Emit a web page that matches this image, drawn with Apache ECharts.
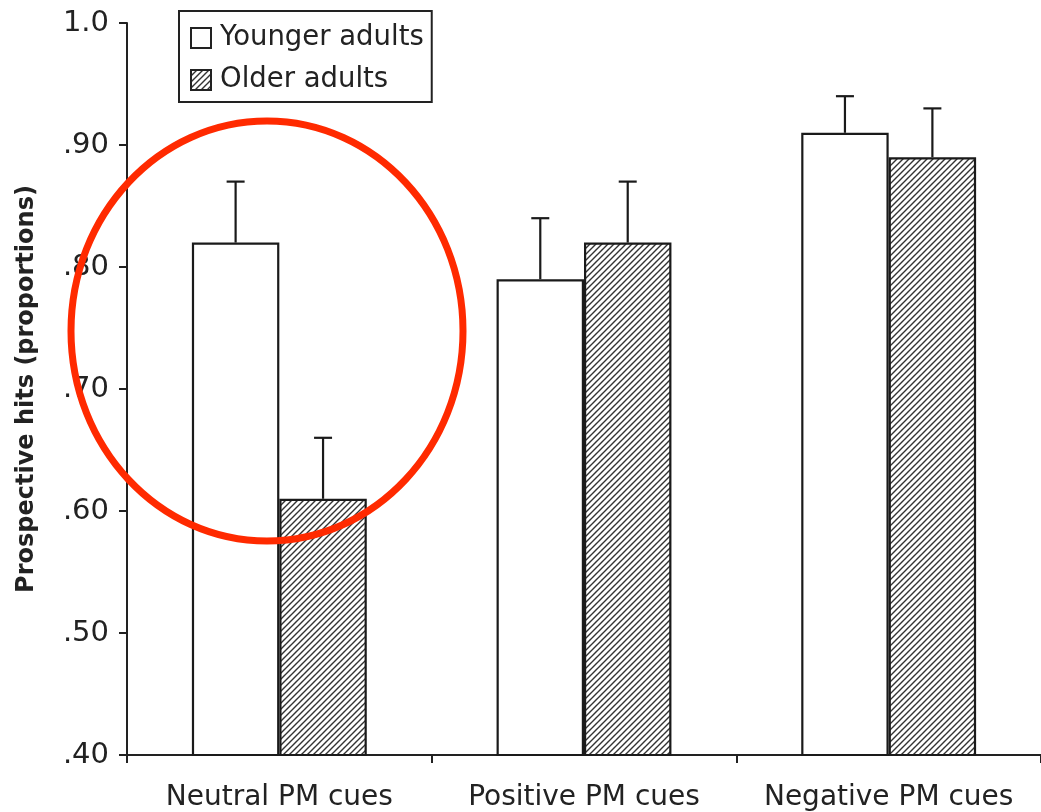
<!DOCTYPE html>
<html>
<head>
<meta charset="utf-8">
<script src="https://cdn.jsdelivr.net/npm/echarts@6/dist/echarts.min.js"></script>
<style>html,body{margin:0;padding:0;background:#fff;}#c{width:1041px;height:812px;}</style>
</head>
<body>
<div id="c"></div>
<script>
var categories = ['Neutral PM cues', 'Positive PM cues', 'Negative PM cues'];
var seriesNames = ['Younger adults', 'Older adults'];
var youngerValues = [0.82, 0.79, 0.91];
var olderValues = [0.61, 0.82, 0.89];
var youngerErrors = [0.05, 0.05, 0.03];
var olderErrors = [0.05, 0.05, 0.04];
var yTicks = [0.4, 0.5, 0.6, 0.7, 0.8, 0.9, 1.0];

function makeHatch() {
  var s = 6;
  var c = document.createElement('canvas');
  c.width = s; c.height = s;
  var ctx = c.getContext('2d');
  ctx.fillStyle = '#ffffff';
  ctx.fillRect(0, 0, s, s);
  ctx.strokeStyle = '#333333';
  ctx.lineWidth = 1.4;
  ctx.beginPath();
  ctx.moveTo(0, s); ctx.lineTo(s, 0);
  ctx.moveTo(-1, 1); ctx.lineTo(1, -1);
  ctx.moveTo(s - 1, s + 1); ctx.lineTo(s + 1, s - 1);
  ctx.stroke();
  return c;
}
var hatch = { image: makeHatch(), repeat: 'repeat' };

var FONT = 'DejaVu Sans, Liberation Sans, sans-serif';
var BAR_FRAC = 0.287;
function errData(vals, errs) {
  return vals.map(function (v, i) { return [i, v, v + errs[i]]; });
}
function errSeries(vals, errs, side) {
  return {
    type: 'custom',
    data: errData(vals, errs),
    z: 5,
    silent: true,
    renderItem: function (params, api) {
      var band = api.size([1, 0])[0];
      var off = side * band * BAR_FRAC / 2;
      var base = api.coord([api.value(0), api.value(1)]);
      var top = api.coord([api.value(0), api.value(2)]);
      var x = base[0] + off;
      var cap = 9;
      var st = { stroke: '#1a1a1a', lineWidth: 2.2 };
      return {
        type: 'group',
        children: [
          { type: 'line', shape: { x1: x, y1: base[1], x2: x, y2: top[1] }, style: st },
          { type: 'line', shape: { x1: x - cap, y1: top[1], x2: x + cap, y2: top[1] }, style: st }
        ]
      };
    }
  };
}

var chart = echarts.init(document.getElementById('c'), null, { renderer: 'canvas' });
chart.setOption({
  backgroundColor: '#ffffff',
  animation: false,
  textStyle: { fontFamily: FONT },
  grid: { left: 127, right: -6, top: 23, bottom: 56, containLabel: false },
  legend: {
    data: seriesNames,
    orient: 'vertical',
    left: 179, top: 11,
    padding: [13, 8, 8, 11],
    itemGap: 14,
    itemWidth: 20, itemHeight: 20,
    icon: 'rect',
    borderColor: '#222', borderWidth: 2,
    textStyle: { fontSize: 27.5, color: '#222', fontFamily: FONT, padding: [0, 0, 0, 4] },
    itemStyle: { borderColor: '#222', borderWidth: 2 },
    selectedMode: false
  },
  xAxis: {
    type: 'category',
    data: categories,
    axisLine: { lineStyle: { color: '#222', width: 2 } },
    axisTick: { show: true, interval: 0, length: 8, lineStyle: { color: '#222', width: 2 } },
    axisLabel: { interval: 0, hideOverlap: false, fontSize: 28, color: '#222', margin: 29, fontFamily: FONT }
  },
  yAxis: {
    type: 'value',
    min: 0.4, max: 1.0, interval: 0.1,
    name: 'Prospective hits (proportions)',
    nameLocation: 'middle',
    nameGap: 88,
    nameTextStyle: { fontSize: 24, fontWeight: 'bold', color: '#222', fontFamily: FONT },
    axisLine: { show: true, lineStyle: { color: '#222', width: 2 } },
    axisTick: { show: true, length: 8, lineStyle: { color: '#222', width: 2 } },
    splitLine: { show: false },
    axisLabel: {
      fontSize: 29, color: '#222', margin: 18, fontFamily: FONT,
      formatter: function (v) {
        var r = Math.round(v * 100);
        if (r === 100) return '1.0';
        return '.' + (r < 10 ? '0' + r : '' + r);
      }
    }
  },
  series: [
    {
      name: seriesNames[0], type: 'bar', data: youngerValues,
      barWidth: (BAR_FRAC * 100) + '%', barGap: '0%',
      itemStyle: { color: '#ffffff', borderColor: '#1a1a1a', borderWidth: 2.2 }
    },
    {
      name: seriesNames[1], type: 'bar', data: olderValues,
      barWidth: (BAR_FRAC * 100) + '%', barGap: '0%',
      itemStyle: { color: hatch, borderColor: '#1a1a1a', borderWidth: 2.2 }
    },
    errSeries(youngerValues, youngerErrors, -1),
    errSeries(olderValues, olderErrors, 1)
  ],
  graphic: [
    {
      type: 'ellipse',
      shape: { cx: 267, cy: 331, rx: 196, ry: 210 },
      style: { fill: 'none', stroke: '#ff2a00', lineWidth: 7 },
      z: 100
    }
  ]
});
</script>
</body>
</html>
